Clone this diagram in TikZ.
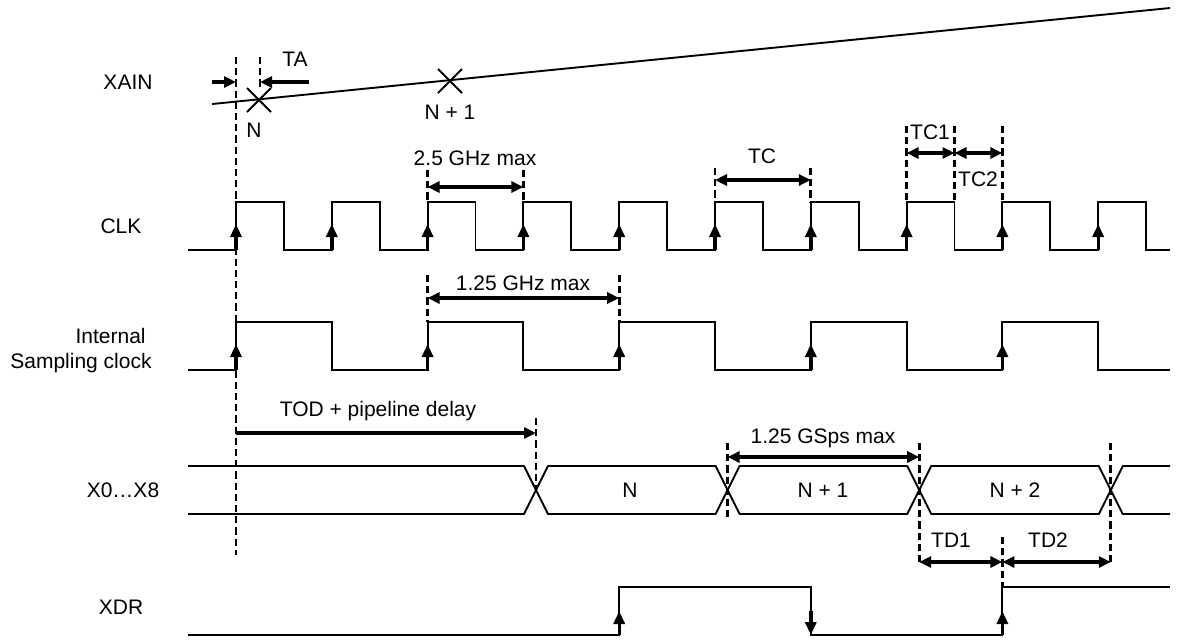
\documentclass[tikz,border=0pt]{standalone}
\usepackage{fontspec}
\setmainfont{Liberation Sans}
\usetikzlibrary{arrows.meta}
\begin{document}
\begin{tikzpicture}[x=0.5pt,y=-0.5pt,
  sig/.style={line width=0.95pt},
  dsh/.style={line width=1.4pt,dash pattern=on 3.6pt off 2pt},
  dimb/.style={line width=1.8pt,{Triangle[length=6pt,width=5.5pt]}-{Triangle[length=6pt,width=5.5pt]}},
  dimr/.style={line width=1.8pt,-{Triangle[length=6pt,width=5.5pt]}},
  edgeup/.style={line width=1.7pt,-{Triangle[length=6.5pt,width=5.5pt]}},
  lbl/.style={font=\fontsize{10.5}{12}\selectfont,inner sep=0pt}]
\useasboundingbox (0,0) rectangle (1178,639);

% ---------- labels ----------
\node[lbl] (lxain) at (128,82) {XAIN};
\node[lbl] (lclk) at (121,226) {CLK};
\node[lbl,anchor=east] (lint1) at (146,336) {Internal};
\node[lbl,anchor=east] (lint2) at (152,363) {Sampling clock};
\node[lbl] (lx) at (123,490) {X0…X8};
\node[lbl] (lxdr) at (121,607) {XDR};

% ---------- XAIN ----------
\draw[sig] (212,104) -- (1170,8);
\draw[sig] (247,88) -- (271,112) (247,112) -- (271,88);
\draw[sig] (438,69) -- (462,93) (438,93) -- (462,69);
\node[lbl] (tN) at (254,130) {N};
\node[lbl] (tN1) at (450,112) {N + 1};
\draw[dsh] (236,57) -- (236,555);
\draw[dsh] (260,57) -- (260,90);
\draw[dimr] (212,82) -- (236,82);
\draw[dimr] (309,82) -- (260,82);
\node[lbl] (tTA) at (295,59) {TA};

% ---------- CLK ----------
\draw[sig] (188,250)
  \foreach \k in {0,...,9}{ -- ({236+95.8*\k},250) -- ({236+95.8*\k},202) -- ({283.9+95.8*\k},202) -- ({283.9+95.8*\k},250) }
  -- (1170,250);
\foreach \k in {0,...,9}{ \draw[edgeup] ({236+95.8*\k},250) -- ({236+95.8*\k},224); }

% ---------- Internal sampling clock ----------
\draw[sig] (188,370)
  \foreach \k in {0,...,4}{ -- ({236+191.6*\k},370) -- ({236+191.6*\k},322) -- ({331.8+191.6*\k},322) -- ({331.8+191.6*\k},370) }
  -- (1170,370);
\foreach \k in {0,...,4}{ \draw[edgeup] ({236+191.6*\k},370) -- ({236+191.6*\k},344); }

% ---------- X0...X8 ----------
\draw[sig] (188,466) -- (524,466) -- (548,514) -- (715.6,514) -- (739.6,466) -- (907.2,466) -- (931.2,514) -- (1098.8,514) -- (1122.8,466) -- (1170,466);
\draw[sig] (188,514) -- (524,514) -- (548,466) -- (715.6,466) -- (739.6,514) -- (907.2,514) -- (931.2,466) -- (1098.8,466) -- (1122.8,514) -- (1170,514);
\node[lbl] (dN) at (630,490) {N};
\node[lbl] (dN1) at (823,490) {N + 1};
\node[lbl] (dN2) at (1015,490) {N + 2};

% ---------- XDR ----------
\draw[sig] (188,635) -- (619.2,635) -- (619.2,587) -- (810.8,587) -- (810.8,635) -- (1002.4,635) -- (1002.4,587) -- (1170,587);
\draw[edgeup] (619.2,635) -- (619.2,611);
\draw[edgeup] (810.8,611) -- (810.8,635);
\draw[edgeup] (1002.4,635) -- (1002.4,611);

% ---------- 2.5 GHz ----------
\draw[dsh] (427.6,170) -- (427.6,202);
\draw[dsh] (523.4,170) -- (523.4,202);
\draw[dimb] (427.6,187) -- (523.4,187);
\node[lbl] (t25) at (475,158) {2.5 GHz max};

% ---------- 1.25 GHz ----------
\draw[dsh] (427.6,275) -- (427.6,322);
\draw[dsh] (619.2,275) -- (619.2,322);
\draw[dimb] (427.6,298) -- (619.2,298);
\node[lbl] (t125) at (523,283) {1.25 GHz max};

% ---------- TC ----------
\draw[dsh] (715,168) -- (715,202);
\draw[dsh] (810.8,168) -- (810.8,202);
\draw[dimb] (715,180) -- (810.8,180);
\node[lbl] (tTC) at (762,156) {TC};

% ---------- TC1 / TC2 ----------
\draw[dsh] (906.6,126) -- (906.6,202);
\draw[dsh] (954.5,126) -- (954.5,202);
\draw[dsh] (1002.4,126) -- (1002.4,202);
\draw[dimb] (906.6,153) -- (954.5,153);
\draw[dimb] (954.5,153) -- (1002.4,153);
\node[lbl] (tTC1) at (930,132) {TC1};
\node[lbl] (tTC2) at (978,179) {TC2};

% ---------- TOD ----------
\draw[dsh] (536,418) -- (536,490);
\draw[dimr] (236,433) -- (536,433);
\node[lbl] (tTOD) at (378,411) {TOD + pipeline delay};

% ---------- 1.25 GSps ----------
\draw[dsh] (727.6,443) -- (727.6,520);
\draw[dsh] (919.2,443) -- (919.2,565);
\draw[dsh] (1110.8,443) -- (1110.8,565);
\draw[dimb] (727.6,457) -- (919.2,457);
\node[lbl] (tGS) at (823,438) {1.25 GSps max};

% ---------- TD1 / TD2 ----------
\draw[dsh] (1002.4,537) -- (1002.4,587);
\draw[dimb] (919.2,562) -- (1002.4,562);
\draw[dimb] (1002.4,562) -- (1110.8,562);
\node[lbl] (tTD1) at (951,540) {TD1};
\node[lbl] (tTD2) at (1048,540) {TD2};
\end{tikzpicture}
\end{document}
